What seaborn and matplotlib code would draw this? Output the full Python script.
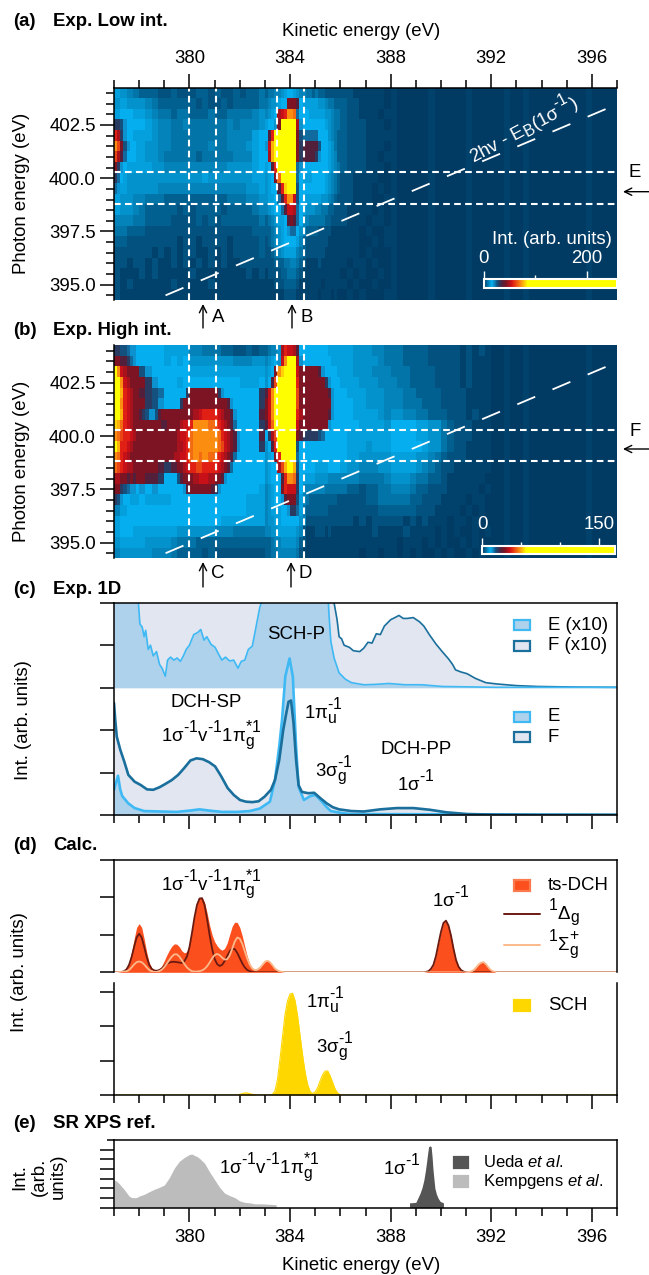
import numpy as np
import matplotlib
matplotlib.use('Agg')
import matplotlib.pyplot as plt
import matplotlib._mathtext as mt
from matplotlib.colors import LinearSegmentedColormap
from matplotlib.patches import Rectangle
import seaborn as sns

sns.set_style('ticks', {'text.color': 'black', 'axes.edgecolor': 'black', 'xtick.color': 'black',
                        'ytick.color': 'black', 'axes.labelcolor': 'black'})
plt.rcParams['font.family'] = ['Liberation Sans', 'DejaVu Sans']
plt.rcParams['mathtext.fontset'] = 'custom'
plt.rcParams['mathtext.rm'] = 'Liberation Sans'
plt.rcParams['mathtext.it'] = 'Liberation Sans:italic'
plt.rcParams['mathtext.bf'] = 'Liberation Sans:bold'
plt.rcParams['mathtext.default'] = 'regular'
plt.rcParams['lines.scale_dashes'] = False
# superscripts are nearly full size in this figure
mt.SHRINK_FACTOR = 0.85
mt.FontConstantsBase.sup1 = 0.95

W, H = 649, 1275
FS = 13.4

# photon energy rows, top to bottom, kinetic energy from 377 eV
# one group is one eV: 4 characters (0.25 eV each) or 8 characters (0.125 eV each)
# one character is the base 36 colour level of the intensity
low_rows = [
    "7654 3332 2322 2332 3223 2334 34455678 87655443 43322222 2211 1110",
    "6766 6543 3333 3232 2323 3334 4566788e eed87777 76654433 3221 1110",
    "7887 7654 4344 3334 3344 4456 5678fghk kja88877 77766544 3221 1101",
    "ccb98888 8765 5445 4444 4454 5556 7889ennn nnf98888 88876544 3222 1110",
    "hfc98877 7765 5444 4444 4455 5578 8dhnnnnn nnebaaaa a8886543 3222 1111",
    "kieb9887 7665 5444 4445 4455 5678 9glnnnnn nnecdddd db887643 3222 1110",
    "ifda8887 7665 4444 4344 4445 5578 8flnnnnn nnecdddd c9887653 3222 1101",
    "ec987777 7766 5555 5555 5566 6678 78dhnnnn nna98888 88887654 3222 1110",
    "ca876666 6666 6666 6676 6666 6677 678ejnnn nna87778 88876543 2211 1100",
    "a9776666 6665 5555 5555 5555 5667 6788dhmn nnb88888 88876543 2211 1010",
    "7665 5444 3333 3333 3344 4556 6778adhk kgb87777 77665432 2211 1001",
    "7665 4333 3323 2333 3233 3345 56788adg gfa87666 55443322 2111 1010",
    "5554 4333 3222 2323 2333 3334 3456778d eda85544 44433222 2111 0110",
    "4433 3222 2222 2222 2222 2233 33456789 aa865333 32222111 1110 1001",
    "3322 2222 2212 2122 2212 2223 23456788 88753222 22221111 1110 0101",
    "2222 2212 1212 2112 1212 2223 22345677 77543222 22211111 1110 1000",
    "2212 2121 1212 1212 1211 2222 22233344 55432111 12111111 1011 0100",
    "2111 2121 1111 2111 1111 1212 12222334 44321111 11111111 0101 0010",
    "2121 1111 1211 1112 1111 1111 11122233 33211111 11011111 1010 0100",
    "2111 1111 1111 1111 1111 1111 11111122 22111111 10111010 0101 0001",
]
low_tail = "0000 1000 0010 0000 1000 0001 0010 0000 0100 0010 0000 1000 0010 0000 1000 0010 0100 0000 0001 0000"

high_rows = [
    "ccbba998 8888 7777 5544 4332 2323 34556fhg gfd88888 88887777 7766 6554 4433 3322 2221 2121",
    "eeddca98 8888 7878 6666 6665 5566 56789gkn nnf98888 88888777 7766 6654 4433 3322 2221 2111",
    "nkgfeeee b988 8888 7777 7777 7777 678ekmnn nngeeeee ed988887 7766 6555 4443 3332 2221 2111",
    "nnkgfeee ec98 8878 8888 8888 7778 68dinnnn nnheeeee eeec9888 7776 6655 5443 3332 2221 2111",
    "nnlhgfee dcba 8888888c eeeeeeee ec988888 888c dgknnnnn nnieeeee eeeed988 8777 6665 5544 3333 2222 1111",
    "nnkhgfee ecb9 88888cee eeeeeeee eeeed988 888c egknnnnn nnieeeee eeeee988 8877 6665 5544 4333 2222 1111",
    "nnlhgfee dcb99bde eeeeeeee effghhhh hgfeed98 888d egknnnnn nnhfeeee eeeed988 8877 7765 6655 4433 3222 1211",
    "mljhgfee eeeeeeed deeeefgg hkkkkkjj ihgfeda8 888c dgjnnnnn nngeeeee eeee9888 8887 7776 8888 7766 4322 2111",
    "kjihhgfe eeee eeeefggh jkkkkkkk kjhgfed9 888d 8cfinnnn nnedcccc cba88888 8777 7777 8888 7766 4322 2111",
    "nlhhgfee eeee eeeeffgh jkkkkkkk kjigfed9 888c 68dhnnnn nnb88888 88888888 8777 6777 8888 8766 4322 1111",
    "kjhgfeee eeee eeeffggh jkkjkkjj ihgfeda8 8888 678ehnnn nna88888 88888888 8776 6666 7777 6654 3222 1111",
    "jihgffee eeed ccddeefg hhiihhhh hgfeda88 8888 6788filn nlb88888 77778888 7665 5566 7777 6543 2211 1111",
    "ffeedede eddc 8888bdee effgggff eed98888 8888 67888dhk kjc87777 66665555 5554 4445 6665 4433 2111 1110",
    "eecba998 9898 8888889d eeeeeeed c9888888 8887 56788ehg ggc85555 55544444 4332 3344 5554 3322 2111 1101",
    "cb988777 8777 7888 8888 8888 8777 567889de eeb75433 33333332 2222 3344 4443 3222 1111 0110",
    "5788 8888 8888 8888 8888 8777 56777889 cca74333 33332222 2222 2233 3333 2221 1110 1010",
    "7888 8888 8888 8888 8777 7777 56677888 88865222 22222222 2212 1222 2212 1211 1011 0100",
    "7887 7777 7766 6666 5554 4444 55667777 77652111 22212111 1111 1211 1121 1110 1010 0101",
    "6777 7666 6544 4333 3333 3333 33455666 66532111 11111111 1111 1111 1011 1010 1001 0100",
    "5666 6655 5433 3323 2222 2222 33445555 55421111 11111111 1110 1101 1010 1001 0100 1010",
]
high_tail = "0000 1000 0010 0000 1000 0001 0010 0000 0100 0010 0000 1000 0010 0000 1000 0010 0100 0000 0001 0000"

# fraction of the colour bar for colour levels 0 to 23
level_scale = [0.0, 0.004, 0.012, 0.02, 0.03, 0.038, 0.045, 0.052, 0.06, 0.075, 0.09, 0.1,
               0.115, 0.14, 0.17, 0.19, 0.205, 0.22, 0.24, 0.26, 0.28, 0.295, 0.31, 0.33]

ke_major = [380, 384, 388, 392, 396]
ke_minor = list(range(377, 398))
hv_major = [395, 397.5, 400, 402.5]
hv_minor = list(np.arange(394.5, 404.5, 0.5))
hv_major_labels = ['395.0', '397.5', '400.0', '402.5']

# panel c, ticks are the y unit, x10 curves start from 3
e_ke = [377.0, 377.07, 377.16, 377.25, 377.33, 377.57, 377.82, 378.2, 378.8, 379.5, 380.0, 380.4, 380.8, 381.3,
        381.9, 382.4, 382.8, 383.2, 383.4, 383.57, 383.68, 383.81, 383.98, 384.11, 384.24, 384.34, 384.55,
        384.8, 385.0, 385.21, 385.46, 385.62, 386.1, 386.44, 397.0]
e_int = [0.60, 0.75, 0.93, 0.60, 0.45, 0.28, 0.17, 0.10, 0.09, 0.08, 0.11, 0.14, 0.11, 0.08,
         0.08, 0.10, 0.16, 0.32, 0.83, 1.62, 2.24, 3.26, 3.69, 3.26, 1.62, 0.67, 0.36,
         0.45, 0.48, 0.36, 0.19, 0.10, 0.05, 0.03, 0.01]
f_ke = [377.0, 377.05, 377.11, 377.25, 377.41, 377.57, 377.82, 378.07, 378.31, 378.56, 378.81, 379.05, 379.3,
        379.55, 379.79, 380.04, 380.28, 380.53, 380.78, 381.02, 381.27, 381.52, 381.76, 382.01, 382.25, 382.5,
        382.75, 382.99, 383.24, 383.4, 383.57, 383.73, 383.85, 383.94, 384.04, 384.14, 384.24, 384.34, 384.47,
        384.72, 384.96, 385.21, 385.46, 385.7, 385.95, 386.44, 386.93, 387.59, 388.25, 388.9, 389.56, 390.22,
        391.04, 392.19, 393.83, 397.0]
f_int = [2.64, 2.24, 1.85, 1.54, 1.26, 0.95, 0.79, 0.71, 0.61, 0.60, 0.66, 0.74, 0.83,
         0.95, 1.11, 1.29, 1.34, 1.32, 1.25, 1.15, 0.91, 0.64, 0.48, 0.36, 0.32, 0.31,
         0.33, 0.44, 0.60, 0.83, 1.30, 2.01, 2.40, 2.67, 2.70, 2.16, 1.30, 0.71, 0.55,
         0.52, 0.53, 0.40, 0.28, 0.19, 0.14, 0.10, 0.09, 0.14, 0.17, 0.17, 0.13, 0.07,
         0.03, 0.015, 0.01, 0.01]
e10_ke = [377.0, 377.92, 377.97, 378.03, 378.12, 378.2, 378.26, 378.36, 378.45, 378.56, 378.69, 378.81, 378.92,
          379.04, 379.13, 379.25, 379.38, 379.51, 379.64, 379.76, 379.87, 380.0, 380.17, 380.33, 380.45, 380.58,
          380.69, 380.86, 381.02, 381.15, 381.29, 381.43, 381.6, 381.76, 381.93, 382.06, 382.2, 382.34, 382.5,
          382.67, 382.8, 382.86, 382.91, 385.46, 385.54, 385.62, 385.75, 385.95, 386.2, 386.44, 386.93, 387.43,
          387.92, 388.58, 389.23, 390.05, 392.2, 397.0]
e10_int = [3.0, 3.0, 2.0, 1.5, 1.43, 1.2, 1.35, 0.9, 1.0, 0.75, 0.85, 0.55, 0.45,
           0.27, 0.65, 0.72, 0.65, 0.70, 0.62, 0.75, 0.90, 1.0, 1.25, 1.3, 1.37, 1.12,
           1.2, 1.02, 0.95, 0.8, 0.65, 0.72, 0.63, 0.65, 0.46, 0.62, 0.65, 0.9, 0.98,
           1.5, 1.9, 2.0, 3.0, 3.0, 1.8, 1.1, 0.7, 0.35, 0.2, 0.12, 0.07, 0.08,
           0.1, 0.07, 0.07, 0.03, 0.01, 0.01]
f10_ke = [377.0, 385.7, 385.75, 385.87, 385.95, 386.05, 386.15, 386.36, 386.52, 386.77, 386.93, 387.1, 387.26,
          387.43, 387.59, 387.75, 388.0, 388.17, 388.33, 388.5, 388.66, 388.9, 389.15, 389.32, 389.56, 389.8,
          390.05, 390.3, 390.46, 390.58, 390.8, 391.04, 391.37, 391.78, 392.2, 393.0, 393.83, 395.5, 397.0]
f10_int = [3.0, 3.0, 2.0, 1.6, 1.2, 1.15, 1.0, 0.95, 0.87, 0.85, 0.93, 1.07, 1.05,
           1.27, 1.25, 1.45, 1.6, 1.65, 1.7, 1.63, 1.63, 1.65, 1.55, 1.45, 1.23, 1.03,
           0.85, 0.68, 0.55, 0.42, 0.37, 0.33, 0.22, 0.12, 0.09, 0.05, 0.03, 0.015, 0.01]

# panel d, 0.1 eV steps from 377 to 383.8, then 389.3 to 392.2, then end of axis
dch_ke = list(np.round(np.arange(377.0, 383.85, 0.1), 1)) + list(np.round(np.arange(389.3, 392.25, 0.1), 1)) + [397.0]
dch_total = [0, 0, .01, .02, .05, .11, .26, .54, .89, 1.20,
             1.30, 1.20, .89, .54, .26, .12, .06, .05, .09, .17,
             .31, .46, .59, .70, .76, .75, .68, .57, .52, .55,
             .74, 1.08, 1.49, 1.82, 2.00, 2.00, 1.87, 1.59, 1.26, 1.00,
             .82, .71, .63, .59, .64, .78, 1.01, 1.23, 1.34, 1.33,
             1.20, .97, .69, .42, .23, .11, .06, .07, .12, .20,
             .28, .31, .27, .19, .10, .05, .02, .01, 0,
             0, .01, .03, .09, .20, .43, .76, 1.08, 1.32, 1.38,
             1.25, .98, .63, .33, .15, .06, .02, .01, .01, .02,
             .06, .13, .21, .26, .27, .21, .12, .05, .02, 0, 0]
dch_delta = [0, 0, 0, .01, .03, .08, .20, .41, .68, .93,
             1.03, .93, .68, .41, .20, .09, .05, .04, .06, .10,
             .17, .23, .26, .28, .28, .27, .26, .25, .30, .42,
             .67, 1.05, 1.47, 1.80, 1.97, 1.98, 1.80, 1.43, 1.00, .63,
             .36, .22, .17, .20, .30, .43, .56, .63, .62, .52,
             .38, .24, .13, .06, .03, .01, 0, 0, 0, 0,
             0, 0, 0, 0, 0, 0, 0, 0, 0,
             0, .01, .03, .09, .20, .43, .76, 1.08, 1.32, 1.38,
             1.25, .98, .63, .33, .15, .06, .02, 0, 0, 0,
             0, 0, 0, 0, 0, 0, 0, 0, 0, 0, 0]
dch_sigma = [0, 0, .01, .01, .02, .03, .06, .13, .21, .27,
             .29, .27, .21, .13, .06, .03, .01, .01, .03, .07,
             .14, .23, .33, .42, .48, .48, .42, .32, .22, .13,
             .07, .03, .02, .02, .03, .05, .09, .16, .26, .37,
             .46, .49, .46, .39, .34, .35, .45, .63, .82, .93,
             .90, .76, .56, .36, .20, .10, .06, .07, .12, .20,
             .28, .31, .27, .19, .10, .05, .02, .01, 0,
             0, 0, 0, 0, 0, 0, 0, 0, 0, 0,
             0, 0, 0, 0, 0, 0, 0, 0, .01, .02,
             .06, .13, .21, .26, .27, .21, .12, .05, .02, 0, 0]
sch_ke = [377.0, 381.9, 382.0, 382.1, 382.2, 382.3, 382.4, 382.5, 382.6, 382.7, 383.2, 383.3, 383.4, 383.5, 383.6,
          383.7, 383.8, 383.9, 384.0, 384.1, 384.2, 384.3, 384.4, 384.5, 384.6, 384.7, 384.8, 384.9, 385.0, 385.1,
          385.2, 385.3, 385.4, 385.5, 385.6, 385.7, 385.8, 385.9, 386.0, 386.1, 397.0]
sch_int = [0, 0, .02, .04, .06, .06, .04, .02, .01, 0, 0, .02, .12, .45, 1.05,
           1.70, 2.35, 2.75, 2.95, 2.97, 2.75, 2.30, 1.72, 1.15, .65, .30, .10, .04, .09, .22,
           .42, .60, .70, .70, .55, .35, .16, .05, .01, 0, 0]

# panel e
kemp_ke = [377.0, 377.1, 377.2, 377.3, 377.4, 377.5, 377.6, 377.7, 377.8, 377.9, 378.0, 378.2, 378.4, 378.6, 378.8,
           379.0, 379.2, 379.4, 379.6, 379.8, 380.0, 380.1, 380.2, 380.3, 380.4, 380.6, 380.8, 381.0, 381.2, 381.4,
           381.6, 381.8, 382.0, 382.2, 382.4, 382.6, 382.8, 383.0, 383.2, 383.45, 383.45]
kemp_int = [2.86, 2.75, 2.5, 2.2, 1.9, 1.55, 1.2, 1.05, 1.03, 1.05, 1.2, 1.38, 1.65, 1.9, 2.1,
            2.34, 3.1, 4.1, 4.8, 5.2, 5.5, 5.55, 5.4, 5.3, 5.1, 4.6, 3.7, 2.9, 2.1, 1.5,
            1.25, 1.05, 0.7, 0.55, 0.5, 0.4, 0.4, 0.38, 0.35, 0.3, 0.0]
ueda_ke = [388.75, 388.75, 389.0, 389.1, 389.17, 389.25, 389.32, 389.38, 389.43, 389.47, 389.51, 389.56, 389.61, 389.65,
           389.68, 389.72, 389.76, 389.82, 389.89, 389.97, 390.1, 390.1]
ueda_int = [0.0, 0.5, 0.55, 1.1, 1.5, 2.1, 2.85, 3.8, 4.75, 5.6, 6.3, 6.4, 6.3, 5.2,
            4.07, 3.0, 2.0, 1.4, 0.97, 0.65, 0.5, 0.0]

cmap_stops = [(0.0, '#013a63'), (0.06, '#05b0f0'), (0.08, '#0f86c0'), (0.10, '#14507e'), (0.115, '#2a3a60'),
              (0.14, '#52203a'), (0.17, '#7d1423'), (0.205, '#c81018'), (0.22, '#e02015'), (0.28, '#fb8f10'),
              (0.33, '#ffff00'), (1.0, '#ffff00')]
int_cmap = LinearSegmentedColormap.from_list('int', cmap_stops, N=1024)

E_LINE, E_FILL = '#3fb9f4', '#aed2ec'
F_LINE, F_FILL = '#1a6f9c', '#e1e6f0'
SIG = r'1σ$^{\text{-1}}$'
MIX = r'1σ$^{\text{-1}}$v$^{\text{-1}}$1π$_{g}^{*1}$'
PI_U = r'1π$_{u}^{\text{-1}}$'
SIG_G = r'3σ$_{g}^{\text{-1}}$'

fig = plt.figure(figsize=(W / 100, H / 100), dpi=100)


def box(top, bottom, left=114, right=617):
    return fig.add_axes([left / W, 1 - bottom / H, (right - left) / W, (bottom - top) / H])


def lab(x, y, s, **kw):
    kw.setdefault('ha', 'center')
    kw.setdefault('va', 'center')
    kw.setdefault('fontsize', FS)
    return fig.text(x / W, 1 - y / H, s, **kw)


def swatch(x0, x1, y, face, edge=None, h=10):
    fig.add_artist(Rectangle((x0 / W, 1 - (y + h / 2) / H), (x1 - x0) / W, h / H, transform=fig.transFigure,
                             facecolor=face, edgecolor=edge if edge else face, linewidth=1.6))


def arrow(x0, y0, x1, y1):
    fig.add_artist(plt.Annotation('', xy=(x1 / W, 1 - y1 / H), xytext=(x0 / W, 1 - y0 / H), xycoords='figure fraction',
                                  textcoords='figure fraction',
                                  arrowprops=dict(arrowstyle='->', lw=1.0, color='black', mutation_scale=13,
                                                  shrinkA=0, shrinkB=0)))


def ke_ticks(ax, labels=False, top=False):
    ax.set_xlim(377, 397)
    ax.set_xticks(ke_major)
    ax.set_xticks(ke_minor, minor=True)
    if labels:
        ax.set_xticklabels([str(k) for k in ke_major])
    else:
        ax.set_xticklabels([])
    ax.tick_params(axis='x', which='major', length=10, width=1.1, labelsize=FS, pad=5, top=top, bottom=not top,
                   labeltop=top, labelbottom=not top)
    ax.tick_params(axis='x', which='minor', length=5.5, width=1.1, top=top, bottom=not top)


def row_levels(row, tail):
    # 4 character groups are doubled so that every row has 160 cells
    out = []
    for group in row.split():
        for c in group:
            out.extend([int(c, 36)] * (2 if len(group) == 4 else 1))
    return out + tail[len(out):]


def map_panel(top, bottom, rows, tail, vmax, cbar_box, cbar_major, cbar_minor):
    tail_levels = row_levels(tail, [])
    levels = [row_levels(row, tail_levels) for row in rows]
    data = np.array(level_scale)[np.array(levels)] * vmax

    ax = box(top, bottom)
    cax = box(cbar_box[2], cbar_box[3], cbar_box[0], cbar_box[1])
    sns.heatmap(data, ax=ax, cmap=int_cmap, vmin=0, vmax=vmax, xticklabels=False, yticklabels=False,
                cbar_ax=cax, cbar_kws={'orientation': 'horizontal'})
    ax.tick_params(left=False, bottom=False)
    cb = ax.collections[0].colorbar
    cb.set_ticks(cbar_major)
    cb.set_ticklabels([str(t) for t in cbar_major])
    cax.set_xticks(cbar_minor, minor=True)
    cax.xaxis.set_ticks_position('top')
    cax.xaxis.set_label_position('top')
    cax.tick_params(axis='x', which='major', colors='white', length=6, width=1.0, labelsize=FS, pad=3)
    cax.tick_params(axis='x', which='minor', colors='white', length=3, width=1.0)
    cb.outline.set_visible(True)
    cb.outline.set_edgecolor('white')
    cb.outline.set_linewidth(1.5)

    # second axes on top carries the real energy scales
    over = box(top, bottom)
    over.patch.set_visible(False)
    ke_ticks(over)
    mid = top + (bottom - top) * (404.26 - 400) / 9.98
    over.set_ylim(400 - (bottom - mid) / 21.3, 400 + (mid - top) / 21.3)
    over.set_yticks(hv_major)
    over.set_yticklabels(hv_major_labels)
    over.set_yticks(hv_minor, minor=True)
    over.tick_params(axis='y', which='major', length=10, width=1.1, labelsize=FS, pad=3)
    over.tick_params(axis='y', which='minor', length=5.5, width=1.1)
    for s in ['right', 'bottom', 'top']:
        over.spines[s].set_visible(False)
    over.spines['left'].set_linewidth(1.1)
    for k in [380, 381.05, 383.5, 384.54]:
        over.axvline(k, color='white', lw=1.5, ls=(0, (4.8, 3.1)))
    for hv in [400.28, 398.81]:
        over.axhline(hv, color='white', lw=1.5, ls=(0, (4.8, 3.1)))
    over.plot([379.05, 397], [394.5, 403.47], color='white', lw=1.3, ls=(0, (14, 13.5)))
    return over


# panel a
over_a = map_panel(87.5, 300, low_rows, low_tail, 258, (483.7, 616.7, 279.3, 287.7), [0, 200], [100])
ke_ticks(over_a, labels=True, top=True)
over_a.spines['top'].set_visible(True)
over_a.spines['top'].set_linewidth(1.1)

# panel b
over_b = map_panel(345, 558.3, high_rows, high_tail, 170, (482.3, 615, 545.7, 554), [0, 150], [50, 100])
over_b.tick_params(axis='x', which='both', bottom=False, top=False)

lab(361, 31, 'Kinetic energy (eV)')
lab(22, 193, 'Photon energy (eV)', rotation=90)
lab(22, 461.7, 'Photon energy (eV)', rotation=90)
lab(552, 239, 'Int. (arb. units)', color='white')
lab(523, 128, r'2hv - E$_{B}$(1σ$^{\text{-1}}$)', color='white', rotation=28, rotation_mode='anchor')
lab(635, 172.7, 'E')
lab(635, 431.7, 'F')
lab(218, 317, 'A')
lab(307, 317, 'B')
lab(218, 573, 'C')
lab(305, 573, 'D')
arrow(203, 328, 203, 304)
arrow(292, 328, 292, 304)
arrow(203, 587, 203, 562)
arrow(291, 587, 291, 562)
arrow(649, 191.7, 623, 191.7)
arrow(649, 449, 623, 449)

# panel c
ax_c = box(602.7, 815.3)
ax_c.fill_between(f10_ke, 3, 3 + np.array(f10_int), color=F_FILL, lw=0)
ax_c.fill_between(e10_ke, 3, 3 + np.array(e10_int), color=E_FILL, lw=0)
ax_c.fill_between(f_ke, 0, f_int, color=F_FILL, lw=0)
ax_c.fill_between(e_ke, 0, e_int, color=E_FILL, lw=0)
sns.lineplot(x=f10_ke, y=3 + np.array(f10_int), ax=ax_c, color=F_LINE, lw=1.2, errorbar=None, estimator=None, sort=False)
sns.lineplot(x=e10_ke, y=3 + np.array(e10_int), ax=ax_c, color=E_LINE, lw=1.2, errorbar=None, estimator=None, sort=False)
sns.lineplot(x=e_ke, y=e_int, ax=ax_c, color=E_LINE, lw=1.9, errorbar=None, estimator=None, sort=False)
sns.lineplot(x=f_ke, y=f_int, ax=ax_c, color=F_LINE, lw=1.9, errorbar=None, estimator=None, sort=False)
ax_c.set_ylim(0, 5)
ax_c.set_yticks([0, 1, 2, 3, 4, 5])
ax_c.set_yticklabels([])
ax_c.tick_params(axis='y', length=10, width=1.1)
ke_ticks(ax_c)

lab(24, 720, 'Int. (arb. units)', rotation=90)
lab(296, 634, 'SCH-P')
lab(205.7, 702.7, 'DCH-SP')
lab(211, 736, MIX)
lab(323, 711, PI_U)
lab(333.6, 770.7, SIG_G)
lab(416, 749, 'DCH-PP')
lab(416, 781.7, SIG)
swatch(514, 530, 625, E_FILL, E_LINE)
swatch(514, 530, 646, F_FILL, F_LINE)
swatch(514, 530, 716.7, E_FILL, E_LINE)
swatch(514, 530, 737, F_FILL, F_LINE)
lab(547.6, 625, 'E (x10)', ha='left')
lab(547.6, 646, 'F (x10)', ha='left')
lab(547.6, 716.7, 'E', ha='left')
lab(547.6, 737, 'F', ha='left')

# panel d
ax_d1 = box(860, 972.3)
ax_d1.fill_between(dch_ke, 0, dch_total, color='#fb4f1e', lw=0)
sns.lineplot(x=dch_ke, y=dch_delta, ax=ax_d1, color='#6b1a10', lw=1.3, errorbar=None, estimator=None, sort=False)
sns.lineplot(x=dch_ke, y=dch_sigma, ax=ax_d1, color='#fbb98b', lw=1.3, errorbar=None, estimator=None, sort=False)
ax_d1.set_ylim(0, 3)
ax_d1.set_yticks([0, 1, 2, 3])
ax_d1.set_yticklabels([])
ax_d1.tick_params(axis='y', length=10, width=1.1)
ax_d1.set_xlim(377, 397)
ax_d1.set_xticks([])
ax_d1.spines['bottom'].set_visible(False)

ax_d2 = box(983, 1095)
ax_d2.fill_between(sch_ke, 0, sch_int, color='#ffd700', lw=0)
sns.lineplot(x=sch_ke, y=sch_int, ax=ax_d2, color='#ffd700', lw=0.8, errorbar=None, estimator=None, sort=False)
ax_d2.set_ylim(0, 3.27)
ax_d2.set_yticks([0, 1, 2, 3])
ax_d2.set_yticklabels([])
ax_d2.tick_params(axis='y', length=10, width=1.1)
ke_ticks(ax_d2)
ax_d2.spines['top'].set_visible(False)

lab(20, 972, 'Int. (arb. units)', rotation=90)
lab(211, 885, MIX)
lab(451, 898.3, SIG)
lab(325, 1000, PI_U)
lab(335, 1046.7, SIG_G)
swatch(514, 530, 885, '#fb4f1e', '#fb7a4e', h=11)
swatch(514, 530, 1005, '#ffd700', h=11)
lab(547.6, 885, 'ts-DCH', ha='left')
lab(547.6, 1005, 'SCH', ha='left')
fig.add_artist(plt.Line2D([504 / W, 540 / W], [1 - 913.7 / H] * 2, color='#6b1a10', lw=1.4))
fig.add_artist(plt.Line2D([504 / W, 540 / W], [1 - 945 / H] * 2, color='#fbb98b', lw=1.4))
lab(548, 913, r'$^{1}$Δ$_{g}$', ha='left')
lab(548, 945, r'$^{1}$Σ$_{g}^{+}$', ha='left')

# panel e
ax_e = box(1140, 1207.7)
ax_e.fill_between(kemp_ke, 0, kemp_int, color='#bcbcbc', lw=0)
ax_e.fill_between(ueda_ke, 0, ueda_int, color='#555555', lw=0)
ax_e.set_ylim(0, 7)
ax_e.set_yticks([0, 1, 2, 3, 4, 5, 6])
ax_e.set_yticks([7], minor=True)
ax_e.set_yticklabels([])
ax_e.tick_params(axis='y', which='major', length=10, width=1.1)
ax_e.tick_params(axis='y', which='minor', length=5, width=1.1)
ke_ticks(ax_e, labels=True)

lab(361, 1266, 'Kinetic energy (eV)')
lab(39, 1176.7, 'Int.\n(arb.\nunits)', rotation=90, linespacing=1.15)
lab(269, 1168, MIX)
lab(401.5, 1166, SIG)
swatch(454, 468, 1162, '#555555', h=11)
swatch(454, 468, 1181.7, '#bcbcbc', h=11)
lab(483.4, 1162, r'Ueda $\mathit{et\ al.}$', ha='left', fontsize=12)
lab(483.4, 1181.7, r'Kempgens $\mathit{et\ al.}$', ha='left', fontsize=12)

for ax in [ax_c, ax_d1, ax_d2, ax_e]:
    for s in ax.spines.values():
        s.set_linewidth(1.1)

# panel headings
for letter, title, y in [('(a)', 'Exp. Low int.', 21.7), ('(b)', 'Exp. High int.', 331), ('(c)', 'Exp. 1D', 590),
                         ('(d)', 'Calc.', 846), ('(e)', 'SR XPS ref.', 1124)]:
    lab(13, y, letter, ha='left', fontweight='bold', fontsize=13.4)
    lab(53, y, title, ha='left', fontweight='bold', fontsize=13.4)

fig.savefig('out.png', dpi=100)
